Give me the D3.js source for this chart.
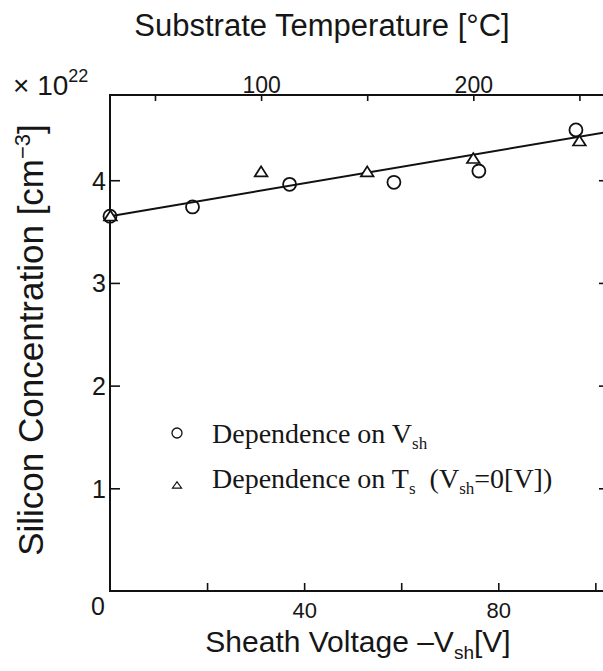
<!DOCTYPE html>
<html>
<head>
<meta charset="utf-8">
<script src="https://cdn.jsdelivr.net/npm/d3@7"></script>
<style>
  body { margin: 0; background: #fff; }
  svg { display: block; }
  .sans { font-family: "Liberation Sans", Arial, sans-serif; fill: #161616; }
  .serif { font-family: "Liberation Serif", "Times New Roman", serif; fill: #161616; }
</style>
</head>
<body>
<svg id="chart" width="603" height="671"></svg>
<script>
// Silicon concentration vs. sheath voltage (circles) and substrate temperature (triangles)
const sheathV    = [0, 17, 37, 58.5, 76, 96];
const siliconByV = [3.65, 3.74, 3.96, 3.98, 4.09, 4.49];
const substrateT = [29, 100, 150, 200, 250];
const siliconByT = [3.65, 4.08, 4.08, 4.21, 4.38];
const fitV  = [0, 102.4];
const fitSi = [3.65, 4.47];

const bottomTicks  = [20, 40, 60, 80, 100];
const bottomLabels = [40, 80];
const topTicks     = [50, 100, 150, 200, 250];
const topLabels    = [100, 200];
const leftTicks    = [1, 2, 3, 4];

const box = { left: 110, right: 607, top: 95, bottom: 591 };

const svg = d3.select("#chart");

const xV = d3.scaleLinear().domain([0, 102.4]).range([box.left, box.right]);
const xT = d3.scaleLinear().domain([28.8, 263.0]).range([box.left, box.right]);
const y  = d3.scaleLinear().domain([0, 4.83]).range([box.bottom, box.top]);

// frame
svg.append("rect")
  .attr("x", box.left).attr("y", box.top)
  .attr("width", box.right - box.left).attr("height", box.bottom - box.top)
  .attr("fill", "none").attr("stroke", "#111").attr("stroke-width", 2);

function styleAxis(g, size) {
  g.select(".domain").remove();
  g.selectAll(".tick line").attr("stroke", "#111").attr("stroke-width", 1.6);
  g.selectAll(".tick text")
    .attr("class", "sans")
    .style("font-size", size + "px")
    .attr("fill", "#161616");
}

// bottom axis: sheath voltage
const gB = svg.append("g")
  .attr("transform", `translate(0,${box.bottom})`)
  .call(d3.axisBottom(xV).tickValues(bottomTicks).tickSize(-8).tickSizeOuter(0).tickPadding(11)
    .tickFormat(d => bottomLabels.includes(d) ? d : ""));
styleAxis(gB, 22);

// top axis: substrate temperature
const gT = svg.append("g")
  .attr("transform", `translate(0,${box.top})`)
  .call(d3.axisTop(xT).tickValues(topTicks).tickSize(-6).tickSizeOuter(0).tickPadding(2)
    .tickFormat(d => topLabels.includes(d) ? d : ""));
styleAxis(gT, 23);

// left axis: silicon concentration
const gL = svg.append("g")
  .attr("transform", `translate(${box.left},0)`)
  .call(d3.axisLeft(y).tickValues(leftTicks).tickSize(-10).tickSizeOuter(0).tickPadding(11)
    .tickFormat(d3.format("d")));
styleAxis(gL, 25);
gL.selectAll(".tick text").attr("text-anchor", "middle").attr("dy", "0.36em");

// right axis: ticks only
const gR = svg.append("g")
  .attr("transform", `translate(${box.right},0)`)
  .call(d3.axisRight(y).tickValues(leftTicks).tickSize(-8).tickSizeOuter(0).tickFormat(""));
styleAxis(gR, 20);

// shared origin label
svg.append("text").attr("class", "sans")
  .attr("x", xV(0) - 12).attr("y", y(0) + 24)
  .attr("text-anchor", "middle").style("font-size", "25px").text("0");

// fitted line
svg.append("path")
  .datum(fitV.map((v, i) => [v, fitSi[i]]))
  .attr("fill", "none").attr("stroke", "#111").attr("stroke-width", 2)
  .attr("d", d3.line().x(d => xV(d[0])).y(d => y(d[1])));

// triangles: temperature series
const tri = d3.symbol().type(d3.symbolTriangle).size(70);
svg.append("g").selectAll("path")
  .data(substrateT.map((t, i) => [t, siliconByT[i]]))
  .join("path")
  .attr("d", tri)
  .attr("transform", d => `translate(${xT(d[0])},${y(d[1]) + 1}) scale(1,0.9)`)
  .attr("fill", "#fff").attr("stroke", "#111").attr("stroke-width", 1.8);

// circles: sheath voltage series
svg.append("g").selectAll("circle")
  .data(sheathV.map((v, i) => [v, siliconByV[i]]))
  .join("circle")
  .attr("cx", d => xV(d[0])).attr("cy", d => y(d[1]))
  .attr("r", 6.5)
  .attr("fill", "none").attr("stroke", "#111").attr("stroke-width", 1.8);

// axis titles
svg.append("text").attr("class", "sans")
  .attr("x", 322).attr("y", 36).attr("text-anchor", "middle")
  .style("font-size", "31px").text("Substrate Temperature [°C]");

const xt = svg.append("text").attr("class", "sans")
  .attr("x", 358).attr("y", 652).attr("text-anchor", "middle")
  .style("font-size", "30px");
xt.append("tspan").text("Sheath Voltage \u2013V");
xt.append("tspan").attr("dy", 7).style("font-size", "19px").text("sh");
xt.append("tspan").attr("dy", -7).text("[V]");

const yt = svg.append("text").attr("class", "sans")
  .attr("transform", "translate(43,340) rotate(-90)")
  .attr("text-anchor", "middle").style("font-size", "35px");
yt.append("tspan").text("Silicon Concentration [cm");
yt.append("tspan").attr("dy", -13).style("font-size", "22px").text("\u22123");
yt.append("tspan").attr("dy", 13).text("]");

// exponent note
const ex = svg.append("text").attr("class", "sans").attr("x", 13).attr("y", 95);
ex.append("tspan").style("font-size", "28px").text("\u00d7 10");
ex.append("tspan").attr("dy", -13).style("font-size", "18px").text("22");

// legend
const lg = svg.append("g");
lg.append("circle").attr("cx", 177).attr("cy", 433).attr("r", 5)
  .attr("fill", "none").attr("stroke", "#111").attr("stroke-width", 1.3);
lg.append("path").attr("d", d3.symbol().type(d3.symbolTriangle).size(36))
  .attr("transform", "translate(177,486) scale(1,0.8)")
  .attr("fill", "none").attr("stroke", "#111").attr("stroke-width", 1.3);

const l1 = lg.append("text").attr("class", "serif").attr("x", 212).attr("y", 443)
  .style("font-size", "28px");
l1.append("tspan").text("Dependence on V");
l1.append("tspan").attr("dy", 6).style("font-size", "17px").text("sh");

const l2 = lg.append("text").attr("class", "serif").attr("x", 212).attr("y", 488)
  .style("font-size", "28px");
l2.append("tspan").text("Dependence on T");
l2.append("tspan").attr("dy", 6).style("font-size", "17px").text("s");
l2.append("tspan").attr("dy", -6).attr("dx", 14).text("(V");
l2.append("tspan").attr("dy", 6).style("font-size", "17px").text("sh");
l2.append("tspan").attr("dy", -6).text("=0[V])");
</script>
</body>
</html>
